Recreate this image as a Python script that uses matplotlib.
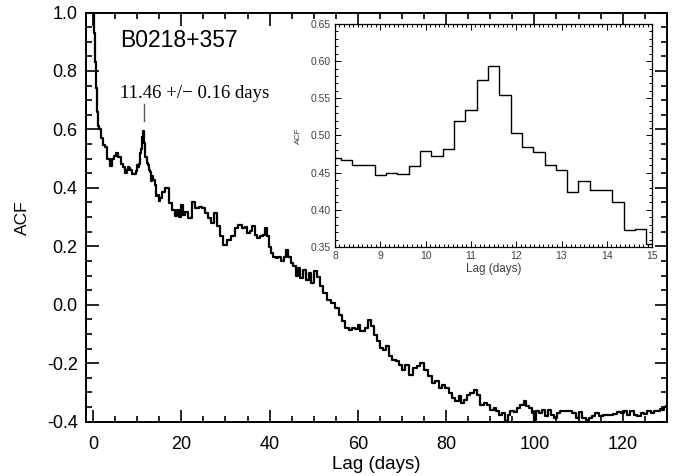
# ACF of B0218+357 light curve, with zoom-in on the time-delay peak
import matplotlib
matplotlib.use("Agg")
import matplotlib.pyplot as plt
from matplotlib.ticker import MultipleLocator, FormatStrFormatter

plt.rcParams["font.family"] = ["Liberation Sans", "DejaVu Sans"]
plt.rcParams["axes.unicode_minus"] = False

# -----------------------------
# Data
# -----------------------------
# inset: ACF around the delay peak, 0.25-day steps
inset_lag = [8.0, 8.25, 8.5, 8.75, 9.0, 9.25, 9.5, 9.75, 10.0, 10.25, 10.5,
             10.75, 11.0, 11.25, 11.5, 11.75, 12.0, 12.25, 12.5, 12.75, 13.0,
             13.25, 13.5, 13.75, 14.0, 14.25, 14.5, 14.75, 15.0]
inset_acf = [0.470, 0.467, 0.460, 0.460, 0.447, 0.449, 0.4485, 0.459, 0.4785,
             0.472, 0.482, 0.520, 0.534, 0.575, 0.593, 0.554, 0.504, 0.485,
             0.478, 0.460, 0.453, 0.424, 0.439, 0.427, 0.427, 0.410, 0.373,
             0.374, 0.354]

# main panel, before the inset range
lag_start = [0.0, 0.25, 0.5, 0.75, 1.0, 1.25, 1.5, 2.0, 2.5, 3.0, 3.5, 4.0,
             4.5, 5.0, 5.5, 6.0, 6.5, 7.0, 7.5, 7.75]
acf_start = [1.0, 0.93, 0.83, 0.74, 0.66, 0.61, 0.60, 0.57, 0.545, 0.54,
             0.50, 0.475, 0.50, 0.51, 0.52, 0.505, 0.48, 0.47, 0.45, 0.46]

# main panel, after the inset range
lag_end = [15.3, 15.9, 16.7, 17.5, 18.2, 18.8, 19.3, 19.7, 20.1, 20.6, 21.2,
           22.0, 22.8, 23.5, 24.3, 25.0, 25.8, 26.5, 27.1, 27.9, 28.4, 29.2,
           29.9, 30.7, 31.8, 32.6, 33.3, 34.1, 34.6, 35.2, 35.8, 36.3, 36.9,
           37.5, 38.2, 38.8, 39.2, 39.6, 40.1, 40.5, 41.1, 41.6, 42.4, 42.9,
           43.5, 43.9, 44.4, 45.1, 45.6, 46.2, 46.7, 47.3, 47.8, 48.5, 49.2,
           49.7, 50.3, 51.1, 51.8, 52.6, 53.4, 54.5, 55.3, 56.0, 56.8, 57.5,
           58.3, 58.9, 59.8, 60.2, 60.7, 61.3, 62.1, 62.7, 63.2, 63.9, 64.7,
           65.4, 66.2, 66.7, 67.3, 68.1, 69.0, 69.8, 70.4, 71.1, 72.2, 73.0,
           73.8, 74.5, 75.3, 76.4, 77.2, 77.9, 78.7, 79.4, 80.2, 80.9, 81.7,
           82.5, 83.1, 83.8, 84.4, 85.1, 85.9, 86.6, 87.4, 88.1, 88.9, 89.6,
           90.4, 91.2, 91.6, 92.3, 93.1, 93.6, 94.2, 94.9, 95.7, 96.4, 97.2,
           97.9, 98.5, 99.1, 99.7, 100.2, 100.6, 101.4, 102.1, 102.7, 103.5,
           104.2, 104.8, 105.5, 106.3, 107.3, 108.2, 108.9, 109.8, 110.4,
           111.2, 112.1, 112.7, 113.4, 114.2, 114.9, 116.1, 117.2, 118.3,
           119.3, 120.1, 120.6, 121.4, 122.1, 122.9, 123.7, 124.4, 125.2,
           125.9, 126.7, 127.4, 128.2, 128.7, 129.2, 129.5, 130.0]
acf_end = [0.365, 0.387, 0.399, 0.348, 0.325, 0.302, 0.325, 0.300, 0.342,
           0.308, 0.319, 0.296, 0.353, 0.331, 0.334, 0.331, 0.313, 0.296,
           0.279, 0.313, 0.268, 0.234, 0.205, 0.222, 0.234, 0.262, 0.273,
           0.262, 0.266, 0.245, 0.251, 0.268, 0.239, 0.228, 0.234, 0.239,
           0.262, 0.234, 0.199, 0.177, 0.165, 0.160, 0.165, 0.148, 0.165,
           0.188, 0.163, 0.143, 0.131, 0.097, 0.125, 0.091, 0.120, 0.085,
           0.108, 0.074, 0.114, 0.095, 0.063, 0.040, 0.017, 0.006, -0.011,
           -0.034, -0.057, -0.080, -0.085, -0.080, -0.083, -0.068, -0.091,
           -0.091, -0.080, -0.051, -0.074, -0.103, -0.125, -0.148, -0.154,
           -0.142, -0.177, -0.188, -0.194, -0.205, -0.222, -0.205, -0.239,
           -0.217, -0.211, -0.200, -0.222, -0.245, -0.268, -0.262, -0.285,
           -0.273, -0.285, -0.302, -0.319, -0.330, -0.313, -0.336, -0.325,
           -0.308, -0.302, -0.291, -0.308, -0.342, -0.336, -0.342, -0.359,
           -0.353, -0.365, -0.376, -0.370, -0.399, -0.376, -0.365, -0.368,
           -0.353, -0.342, -0.330, -0.348, -0.353, -0.370, -0.393, -0.365,
           -0.370, -0.359, -0.382, -0.359, -0.376, -0.388, -0.370, -0.365,
           -0.362, -0.365, -0.370, -0.388, -0.368, -0.388, -0.393, -0.388,
           -0.382, -0.370, -0.382, -0.376, -0.376, -0.373, -0.368, -0.370,
           -0.365, -0.376, -0.365, -0.376, -0.382, -0.370, -0.373, -0.365,
           -0.370, -0.365, -0.365, -0.357, -0.359, -0.350, -0.345]

lag_all = lag_start + inset_lag + lag_end
acf_all = acf_start + inset_acf + acf_end

peak_lag = 11.46
peak_label = "11.46 +/\u2212 0.16 days"

# -----------------------------
# Main panel
# -----------------------------
fig = plt.figure(figsize=(6.85, 4.76), dpi=100)
ax = fig.add_axes([0.1255, 0.1124, 0.848, 0.8613])

ax.plot(lag_all, acf_all, color="black", lw=1.6, drawstyle="steps-mid")
ax.set_xlim(-1.6, 130)
ax.set_ylim(-0.403, 1.0)

ax.xaxis.set_major_locator(MultipleLocator(20))
ax.xaxis.set_minor_locator(MultipleLocator(5))
ax.yaxis.set_major_locator(MultipleLocator(0.2))
ax.yaxis.set_minor_locator(MultipleLocator(0.05))
ax.yaxis.set_major_formatter(FormatStrFormatter("%.1f"))
ax.tick_params(which="both", direction="in", top=True, right=True,
               width=1.2, labelsize=13)
ax.tick_params(which="major", length=9)
ax.tick_params(axis="x", which="major", pad=10)
ax.tick_params(axis="y", which="major", pad=6)
ax.tick_params(which="minor", length=4.5)
for s in ax.spines.values():
    s.set_linewidth(1.4)

ax.set_xlabel("Lag (days)", fontsize=13.5, labelpad=2)
ax.set_ylabel("ACF", fontsize=12.5, labelpad=12)

ax.text(6.1, 0.883, "B0218+357", fontsize=16.5, ha="left", va="baseline")
ax.text(6.1, 0.707, peak_label, fontsize=13.5, ha="left", va="baseline",
        family=["Liberation Serif", "DejaVu Serif"])
ax.plot([peak_lag, peak_lag], [0.628, 0.688], color="0.35", lw=1.0)

# -----------------------------
# Inset: zoom on the peak
# -----------------------------
axin = fig.add_axes([0.489, 0.4811, 0.463, 0.4685])
axin.plot(inset_lag, inset_acf, color="black", lw=1.0, drawstyle="steps-mid")
axin.set_xlim(8, 15)
axin.set_ylim(0.35, 0.65)
axin.xaxis.set_major_locator(MultipleLocator(1))
axin.xaxis.set_minor_locator(MultipleLocator(0.1))
axin.yaxis.set_major_locator(MultipleLocator(0.05))
axin.yaxis.set_minor_locator(MultipleLocator(0.01))
axin.yaxis.set_major_formatter(FormatStrFormatter("%.2f"))
axin.tick_params(which="both", direction="in", top=True, right=True,
                 width=0.7, labelsize=7.5, colors="black",
                 labelcolor="0.25")
axin.tick_params(which="major", length=4, pad=3)
axin.tick_params(which="minor", length=2)
for s in axin.spines.values():
    s.set_linewidth(0.9)
axin.set_xlabel("Lag (days)", fontsize=8.5, color="0.25", labelpad=1)
axin.set_ylabel("ACF", fontsize=6, color="0.25", labelpad=6)

fig.savefig("out.png", dpi=100)
